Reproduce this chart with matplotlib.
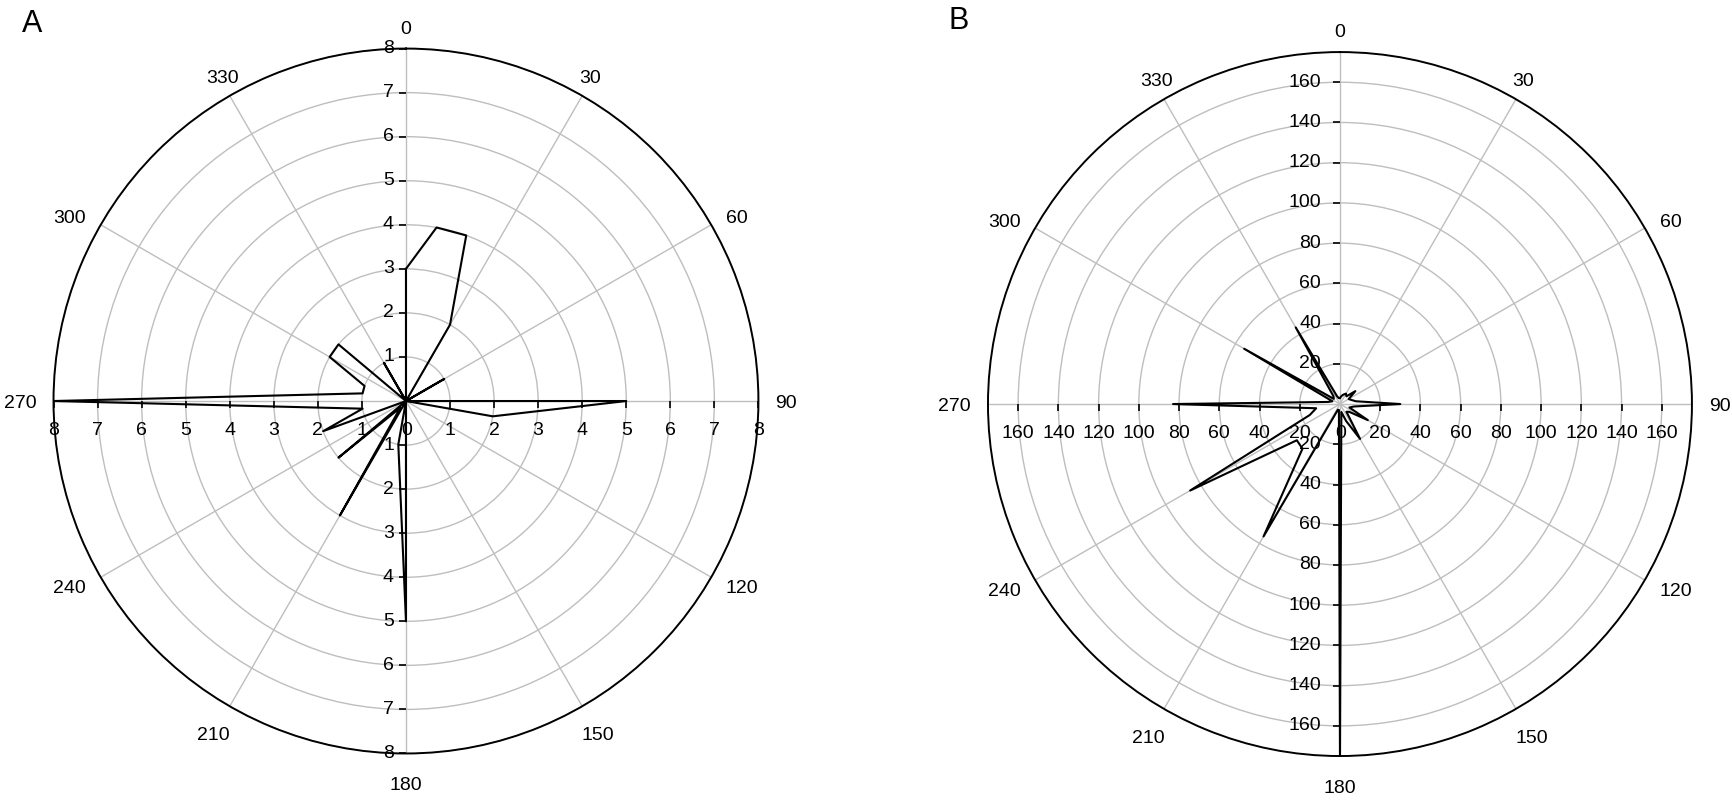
import matplotlib
matplotlib.use('Agg')
import numpy as np
import matplotlib.pyplot as plt

plt.rcParams['font.family'] = ['Liberation Sans', 'DejaVu Sans']

# ---- data ----
angles_deg = list(range(0, 360, 10))
a_values = [3, 4, 4, 2, 0, 0, 1, 0, 0, 5,
            2, 0, 0, 0, 0, 0, 0, 0, 5, 1,
            0, 3, 0.2, 2, 0, 2, 1, 8, 1, 1,
            2, 2, 0, 1, 0, 0]
b_values = [3, 4, 5, 6, 5, 10, 5, 6, 8, 30,
            7, 5, 16, 6, 5, 20, 9, 4, 175, 3,
            3, 76, 29, 28, 86, 16, 12, 83, 6, 4,
            55, 4, 5, 44, 4, 3]
theta_ticks = list(range(0, 360, 30))
a_rticks = [1, 2, 3, 4, 5, 6, 7, 8]
b_rticks = [20, 40, 60, 80, 100, 120, 140, 160]
a_rmax = 8
b_rmax = 175

fig = plt.figure(figsize=(17.32, 8.06), dpi=100)
axA = fig.add_axes([0.03089, 0.0651, 0.4070, 0.8747], projection='polar')
axB = fig.add_axes([0.5704, 0.0620, 0.4065, 0.8734], projection='polar')

LBL = 14
DIGIT_H = 14  # px, approx digit height at LBL


def theta_label(ax, deg, rmax):
    s, c = np.sin(np.deg2rad(deg)), np.cos(np.deg2rad(deg))
    if s > 0.6:
        ha = 'left'
    elif s < -0.6:
        ha = 'right'
    else:
        ha = 'center'
    if c > 0.6:
        k = 0
        g = 15
    elif c < -0.6:
        k = DIGIT_H
        g = 23
    else:
        k = DIGIT_H / 2
        g = 17
    dx = g * s
    if c < -0.6:
        dx *= 1.4
    ax.annotate(str(deg), (np.deg2rad(deg), rmax), xytext=(dx, g * c - k),
                textcoords='offset pixels', ha=ha, va='baseline',
                fontsize=LBL, annotation_clip=False)


def style(ax, values, rmax, rticks, voff):
    ax.set_theta_zero_location('N')
    ax.set_theta_direction(-1)
    th = np.deg2rad(angles_deg + [angles_deg[0]])
    ax.plot(th, list(values) + [values[0]], color='black', lw=1.5, zorder=3)
    ax.set_ylim(0, rmax)
    ax.set_xticks(np.deg2rad(theta_ticks))
    ax.set_xticklabels([''] * len(theta_ticks))
    ax.set_yticks(rticks)
    ax.set_yticklabels([])
    ax.grid(True, color='#bebebe', lw=1.0)
    ax.spines['polar'].set_color('black')
    ax.spines['polar'].set_linewidth(1.4)
    ax.tick_params(axis='x', direction='out', length=5, width=1, color='black')
    ax.tick_params(axis='y', length=0)
    for t in theta_ticks:
        theta_label(ax, t, rmax)
    for r in rticks:
        for ang, mk in [(0, 0), (180, 0), (90, 3), (270, 3)]:
            ax.plot(np.deg2rad(ang), r, marker=mk, ms=5, mew=1.2, color='black',
                    clip_on=False, zorder=4)
        for ang in (0, 180):
            ax.annotate(str(r), (np.deg2rad(ang), r), xytext=(-voff, 0),
                        textcoords='offset pixels', ha='right', va='center',
                        fontsize=LBL, annotation_clip=False, zorder=5)
        for ang in (90, 270):
            ax.annotate(str(r), (np.deg2rad(ang), r), xytext=(0, -29),
                        textcoords='offset pixels', ha='center', va='center',
                        fontsize=LBL, annotation_clip=False, zorder=5)
    ax.annotate('0', (0, 0), xytext=(1, -29), textcoords='offset pixels',
                ha='center', va='center', fontsize=LBL, annotation_clip=False, zorder=5)


style(axA, a_values, a_rmax, a_rticks, 12)
style(axB, b_values, b_rmax, b_rticks, 19)

fig.text(22 / 1732, 1 - 24 / 806, 'A', fontsize=22, ha='left', va='center')
fig.text(948 / 1732, 1 - 21 / 806, 'B', fontsize=22, ha='left', va='center')

fig.savefig('out.png', dpi=100)
